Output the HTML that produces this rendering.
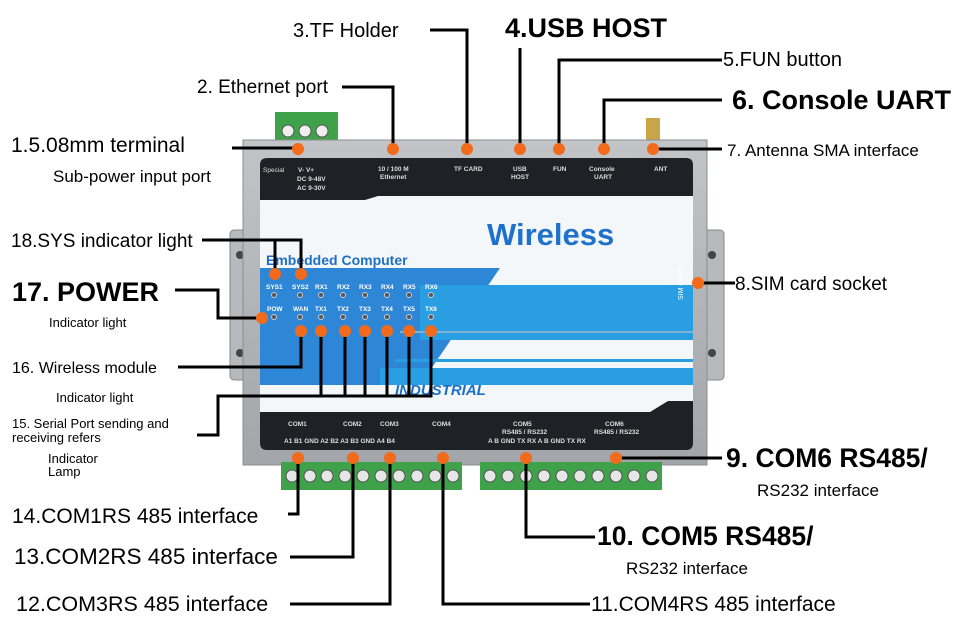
<!DOCTYPE html>
<html><head><meta charset="utf-8"><style>
body{margin:0;background:#fff;width:960px;height:626px;overflow:hidden;font-family:"Liberation Sans",sans-serif}
svg{display:block}
</style></head><body>
<svg width="960" height="626" viewBox="0 0 960 626" xmlns="http://www.w3.org/2000/svg" font-family="Liberation Sans, sans-serif">
<defs>
<linearGradient id="metal" x1="0" y1="0" x2="0" y2="1"><stop offset="0" stop-color="#c2c4c7"/><stop offset="1" stop-color="#a2a5a9"/></linearGradient>
</defs>
<rect x="230" y="230" width="20" height="150" rx="4" fill="#b7b9bc" stroke="#888" stroke-width="1"/>
<rect x="702" y="230" width="22" height="150" rx="4" fill="#b7b9bc" stroke="#888" stroke-width="1"/>
<circle cx="240" cy="255" r="4" fill="#444"/><circle cx="240" cy="353" r="4" fill="#444"/>
<circle cx="712" cy="255" r="4" fill="#444"/><circle cx="712" cy="353" r="4" fill="#444"/>
<rect x="275" y="112" width="63" height="30" fill="#3fa14a"/>
<circle cx="288" cy="131" r="6" fill="#eee" stroke="#555"/><circle cx="305" cy="131" r="6" fill="#eee" stroke="#555"/><circle cx="322" cy="131" r="6" fill="#eee" stroke="#555"/>
<rect x="646" y="118" width="14" height="24" fill="#c9a54a"/>
<rect x="243" y="140" width="464" height="325" fill="url(#metal)" stroke="#8a8d91"/>
<rect x="260" y="158" width="433" height="292" rx="7" fill="#f4f7fa"/>
<path d="M267 158 H686 Q693 158 693 165 V196 H378 L365 200 H260 V165 Q260 158 267 158Z" fill="#1e2226"/>
<path d="M260 268 H500 L420 385 H260Z" fill="#2e86d6"/>
<rect x="420" y="285" width="273" height="55" fill="#2a9ee2"/>
<line x1="400" y1="332" x2="693" y2="332" stroke="#7fb3d8" stroke-width="2"/>
<rect x="395" y="359" width="298" height="3" fill="#2a9ee2"/>
<rect x="380" y="368" width="313" height="17" fill="#2a9ee2"/>
<text x="395" y="395" font-size="15" font-weight="bold" font-style="italic" fill="#1a6fc4">INDUSTRIAL</text>
<path d="M260 412 H650 L668 401 H693 V443 Q693 450 686 450 H267 Q260 450 260 443Z" fill="#1e2226"/>
<text x="266" y="265" font-size="14" font-weight="bold" fill="#1f6fc4">Embedded Computer</text>
<text x="487" y="245" font-size="31" font-weight="bold" fill="#1f72cc">Wireless</text>
<text x="683" y="300" font-size="7" fill="#fff" transform="rotate(-90 683 300)">SIM CARD</text>
<g font-size="6.5" fill="#ddd" font-weight="bold">
<text x="263" y="172" font-weight="normal">Special</text><text x="298" y="172">V-  V+</text>
<text x="297" y="181">DC 9-48V</text><text x="297" y="190">AC 9-30V</text>
<text x="378" y="171">10 / 100 M</text><text x="380" y="179">Ethernet</text>
<text x="454" y="171">TF CARD</text><text x="513" y="171">USB</text><text x="511" y="179">HOST</text>
<text x="553" y="171">FUN</text><text x="589" y="171">Console</text><text x="594" y="179">UART</text><text x="654" y="171">ANT</text>
<text x="288" y="426">COM1</text><text x="343" y="426">COM2</text><text x="380" y="426">COM3</text><text x="432" y="426">COM4</text>
<text x="513" y="426">COM5</text><text x="502" y="434">RS485 / RS232</text>
<text x="605" y="426">COM6</text><text x="594" y="434">RS485 / RS232</text>
<text x="284" y="443">A1  B1 GND A2   B2  A3  B3 GND A4   B4</text>
<text x="488" y="443">A    B  GND  TX   RX   A    B  GND  TX   RX</text>
</g>
<g font-size="6.5" fill="#fff" font-weight="bold">
<text x="266" y="289">SYS1</text><text x="292" y="289">SYS2</text><text x="315" y="289">RX1</text><text x="337" y="289">RX2</text><text x="359" y="289">RX3</text><text x="381" y="289">RX4</text><text x="403" y="289">RX5</text><text x="425" y="289">RX6</text>
<text x="267" y="311">POW</text><text x="293" y="311">WAN</text><text x="315" y="311">TX1</text><text x="337" y="311">TX2</text><text x="359" y="311">TX3</text><text x="381" y="311">TX4</text><text x="403" y="311">TX5</text><text x="425" y="311">TX6</text>
</g>
<g fill="#555" stroke="#ccc" stroke-width="1">
<circle cx="274" cy="295" r="2.5"/><circle cx="300" cy="295" r="2.5"/><circle cx="321" cy="295" r="2.5"/><circle cx="343" cy="295" r="2.5"/><circle cx="365" cy="295" r="2.5"/><circle cx="387" cy="295" r="2.5"/><circle cx="409" cy="295" r="2.5"/><circle cx="431" cy="295" r="2.5"/>
<circle cx="274" cy="317" r="2.5"/><circle cx="300" cy="317" r="2.5"/><circle cx="321" cy="317" r="2.5"/><circle cx="343" cy="317" r="2.5"/><circle cx="365" cy="317" r="2.5"/><circle cx="387" cy="317" r="2.5"/><circle cx="409" cy="317" r="2.5"/><circle cx="431" cy="317" r="2.5"/>
</g>
<rect x="281" y="462" width="181" height="28" fill="#3fa14a"/>
<rect x="480" y="462" width="182" height="28" fill="#3fa14a"/>
<g fill="#e6e6e6" stroke="#555">
<circle cx="292" cy="476" r="6"/><circle cx="310" cy="476" r="6"/><circle cx="327" cy="476" r="6"/><circle cx="345" cy="476" r="6"/><circle cx="363" cy="476" r="6"/><circle cx="381" cy="476" r="6"/><circle cx="399" cy="476" r="6"/><circle cx="417" cy="476" r="6"/><circle cx="435" cy="476" r="6"/><circle cx="453" cy="476" r="6"/>
<circle cx="490" cy="476" r="6"/><circle cx="508" cy="476" r="6"/><circle cx="526" cy="476" r="6"/><circle cx="544" cy="476" r="6"/><circle cx="562" cy="476" r="6"/><circle cx="580" cy="476" r="6"/><circle cx="598" cy="476" r="6"/><circle cx="616" cy="476" r="6"/><circle cx="634" cy="476" r="6"/><circle cx="652" cy="476" r="6"/>
</g>
<g fill="none" stroke="#000" stroke-width="3">
<path d="M232 148 H298"/>
<path d="M342 87 H393 V149"/>
<path d="M430 30 H467 V149"/>
<path d="M520 48 V149"/>
<path d="M722 60 H559 V149"/>
<path d="M722 100 H604 V149"/>
<path d="M653 149 H722"/>
<path d="M735 283 H698"/>
<path d="M202 240 H301 V274 M275 240 V274"/>
<path d="M175 290 H218 V318 H262"/>
<path d="M178 367 H301 V331"/>
<path d="M197 435 H218 V396 H431 V331 M321 331 V396 M345 331 V396 M365 331 V396 M387 331 V396 M409 331 V396"/>
<path d="M298 458 V514 H288"/>
<path d="M353 458 V557 H290"/>
<path d="M390 458 V604 H290"/>
<path d="M443 458 V604 H590"/>
<path d="M526 458 V537 H595"/>
<path d="M616 458 H722"/>
</g>
<g fill="#f26a1b">
<circle cx="298" cy="149" r="6"/><circle cx="393" cy="149" r="6"/><circle cx="467" cy="149" r="6"/><circle cx="520" cy="149" r="6"/><circle cx="559" cy="149" r="6"/><circle cx="604" cy="149" r="6"/><circle cx="653" cy="149" r="6"/>
<circle cx="698" cy="283" r="6"/>
<circle cx="275" cy="274" r="6"/><circle cx="301" cy="274" r="6"/><circle cx="262" cy="318" r="6"/>
<circle cx="301" cy="331" r="6"/><circle cx="321" cy="331" r="6"/><circle cx="345" cy="331" r="6"/><circle cx="365" cy="331" r="6"/><circle cx="387" cy="331" r="6"/><circle cx="409" cy="331" r="6"/><circle cx="431" cy="331" r="6"/>
<circle cx="298" cy="458" r="6"/><circle cx="353" cy="458" r="6"/><circle cx="390" cy="458" r="6"/><circle cx="443" cy="458" r="6"/><circle cx="526" cy="458" r="6"/><circle cx="616" cy="458" r="6"/>
</g>
<g fill="#000">
<text x="293" y="37" font-size="20">3.TF Holder</text>
<text x="505" y="37" font-size="27" font-weight="bold">4.USB HOST</text>
<text x="723" y="66" font-size="20">5.FUN button</text>
<text x="732" y="109" font-size="27" font-weight="bold">6. Console UART</text>
<text x="727" y="156" font-size="17">7. Antenna SMA interface</text>
<text x="197" y="93" font-size="19">2. Ethernet port</text>
<text x="11" y="152" font-size="21">1.5.08mm terminal</text>
<text x="53" y="182" font-size="17">Sub-power input port</text>
<text x="11" y="247" font-size="19">18.SYS indicator light</text>
<text x="12" y="301" font-size="27" font-weight="bold">17. POWER</text>
<text x="49" y="327" font-size="13">Indicator light</text>
<text x="12" y="373" font-size="16">16. Wireless module</text>
<text x="56" y="402" font-size="13">Indicator light</text>
<text x="12" y="428" font-size="13">15. Serial Port sending and</text>
<text x="12" y="442" font-size="13">receiving refers</text>
<text x="48" y="463" font-size="13">Indicator</text>
<text x="48" y="476" font-size="13">Lamp</text>
<text x="735" y="290" font-size="19">8.SIM card socket</text>
<text x="726" y="467" font-size="26.5" font-weight="bold">9. COM6 RS485/</text>
<text x="757" y="496" font-size="17">RS232 interface</text>
<text x="597" y="545" font-size="26.5" font-weight="bold">10. COM5 RS485/</text>
<text x="626" y="574" font-size="17">RS232 interface</text>
<text x="12" y="523" font-size="21">14.COM1RS 485 interface</text>
<text x="14" y="564" font-size="22.5">13.COM2RS 485 interface</text>
<text x="16" y="611" font-size="21.5">12.COM3RS 485 interface</text>
<text x="591" y="611" font-size="21">11.COM4RS 485 interface</text>
</g>
</svg>
</body></html>
